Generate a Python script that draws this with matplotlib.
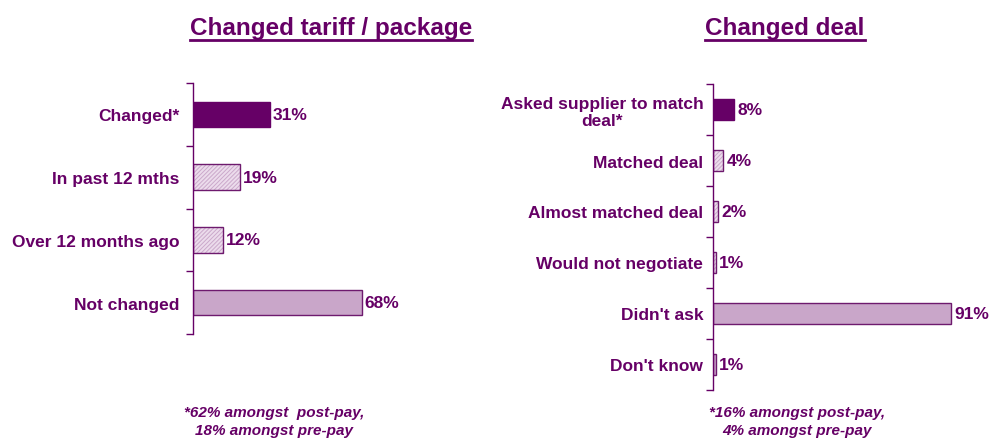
import matplotlib
matplotlib.use("Agg")
import matplotlib.pyplot as plt
import numpy as np

# Data
tariff_labels = ["Changed*", "In past 12 mths", "Over 12 months ago", "Not changed"]
tariff_values = [31, 19, 12, 68]
tariff_styles = ["solid", "hatch", "hatch", "light"]

deal_labels = ["Asked supplier to match\ndeal*", "Matched deal", "Almost matched deal",
               "Would not negotiate", "Didn't ask", "Don't know"]
deal_values = [8, 4, 2, 1, 91, 1]
deal_styles = ["solid", "hatch", "hatch", "hatch", "light", "light"]

tariff_title = "Changed tariff / package"
deal_title = "Changed deal"
tariff_note = "*62% amongst  post-pay,\n18% amongst pre-pay"
deal_note = "*16% amongst post-pay,\n4% amongst pre-pay"

PURPLE = "#660066"
EDGE = "#6E1A6E"
LIGHT = "#C9A6C9"
HATCH_BG = "#ECDCEC"
HATCH_FG = "#CBA8CB"
FONT = "Liberation Sans"

plt.rcParams["font.family"] = [FONT, "DejaVu Sans"]
plt.rcParams["hatch.linewidth"] = 0.7

fig = plt.figure(figsize=(9.95, 4.39), dpi=100)


def draw_panel(rect, labels, values, styles, bar_h, label_pad):
    ax = fig.add_axes(rect)
    n = len(labels)
    y = np.arange(n)
    for yi, v, s in zip(y, values, styles):
        if s == "solid":
            ax.barh(yi, v, height=bar_h, color=PURPLE, edgecolor=PURPLE, linewidth=1.0)
        elif s == "light":
            ax.barh(yi, v, height=bar_h, color=LIGHT, edgecolor=EDGE, linewidth=1.0)
        else:
            ax.barh(yi, v, height=bar_h, color=HATCH_BG, edgecolor=HATCH_FG,
                    hatch="////////", linewidth=0)
            ax.barh(yi, v, height=bar_h, fill=False, edgecolor=EDGE, linewidth=1.0)
        ax.text(v + 1.2, yi, f"{v}%", va="center", ha="left", color=PURPLE,
                fontsize=12.5, fontweight="bold")
    ax.set_xlim(0, 100)
    ax.set_ylim(n - 0.5, -0.5)
    for side in ("top", "right", "bottom"):
        ax.spines[side].set_visible(False)
    ax.spines["left"].set_color(PURPLE)
    ax.spines["left"].set_linewidth(1.0)
    ax.set_xticks([])
    ax.set_yticks(np.arange(n + 1) - 0.5)
    ax.set_yticklabels([])
    ax.tick_params(axis="y", which="major", length=5, width=1.0, color=PURPLE,
                   direction="out")
    ax.set_yticks(y, minor=True)
    ax.set_yticklabels(labels, minor=True, fontsize=12.5, fontweight="bold",
                       color=PURPLE, multialignment="center")
    ax.tick_params(axis="y", which="minor", length=0, pad=label_pad)
    ax.patch.set_alpha(0)
    return ax


draw_panel([193 / 995, (439 - 335) / 439, 248 / 995, 251 / 439],
           tariff_labels, tariff_values, tariff_styles, 0.41, 10)
draw_panel([713 / 995, (439 - 391) / 439, 262 / 995, 306 / 439],
           deal_labels, deal_values, deal_styles, 0.42, 7)

# Titles (underlined)
for cx, txt in [(331, tariff_title), (785, deal_title)]:
    t = fig.text(cx / 995, 1 - 28 / 439, txt, ha="center", va="center",
                 fontsize=17.5, fontweight="bold", color=PURPLE)
    fig.canvas.draw()
    bb = t.get_window_extent()
    y_line = bb.y0 - 1.5
    fig.add_artist(plt.Line2D([bb.x0 / 995, bb.x1 / 995],
                              [y_line / 439, y_line / 439],
                              transform=fig.transFigure, color=PURPLE, linewidth=2.0))

# Footnotes
fig.text(274 / 995, 1 - 422 / 439, tariff_note, ha="center", va="center",
         fontsize=11, fontweight="bold", fontstyle="italic", color=PURPLE,
         linespacing=1.3)
fig.text(797 / 995, 1 - 422 / 439, deal_note, ha="center", va="center",
         fontsize=11, fontweight="bold", fontstyle="italic", color=PURPLE,
         linespacing=1.3)

fig.savefig("out.png", dpi=100)
